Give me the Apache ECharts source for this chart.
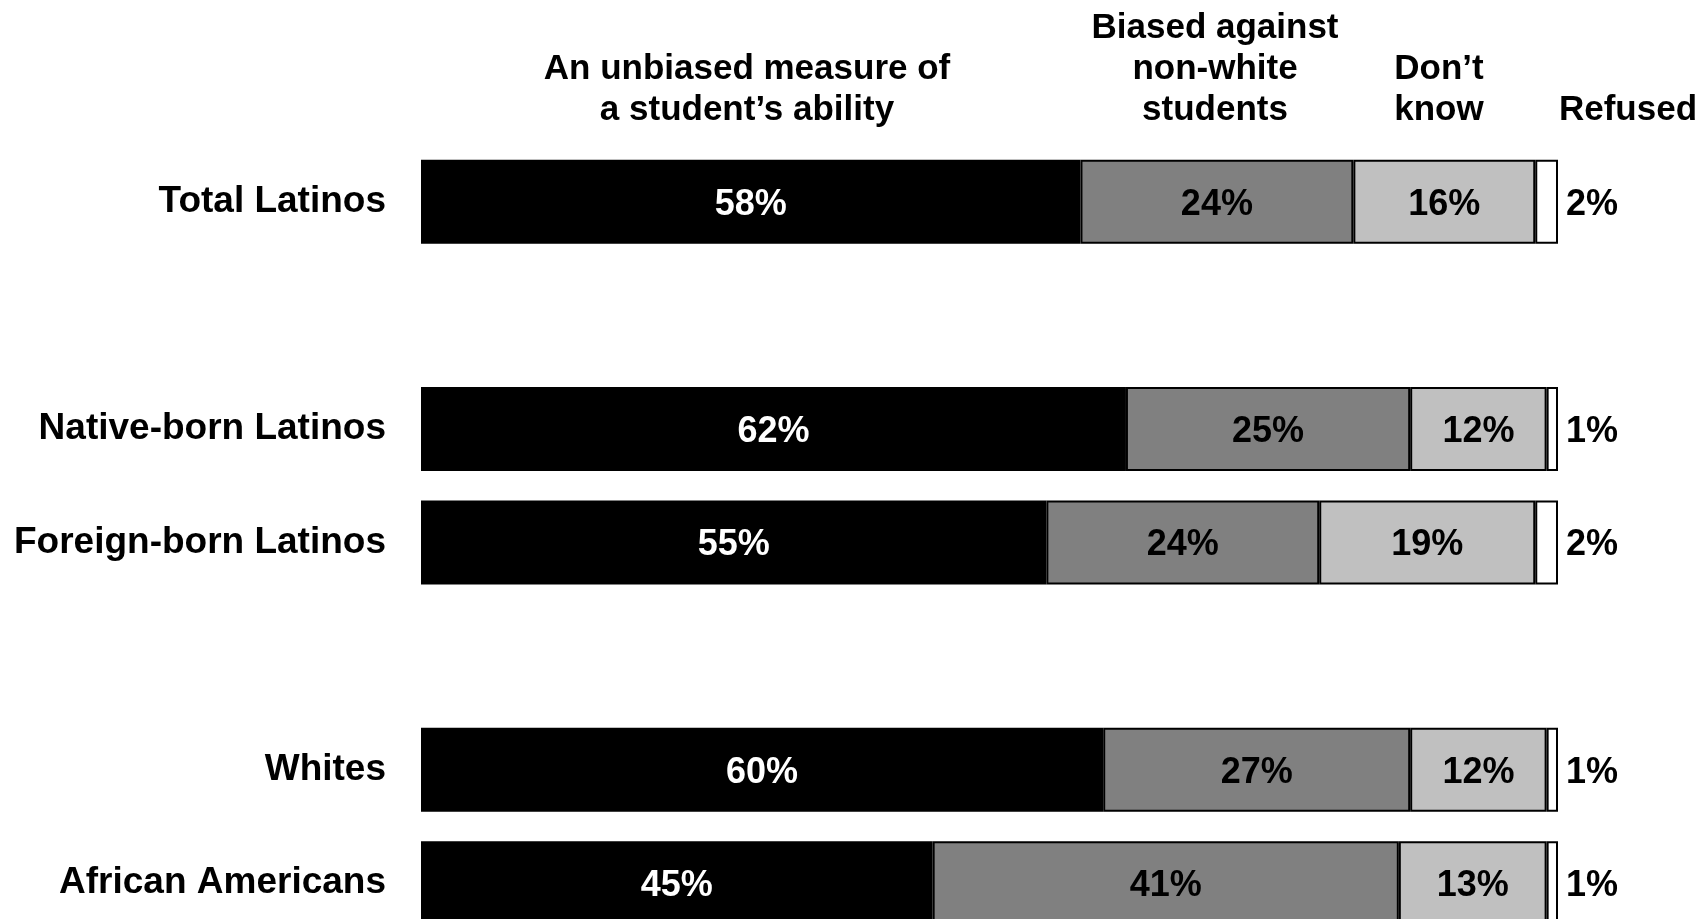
<!DOCTYPE html>
<html>
<head>
<meta charset="utf-8">
<script src="https://cdn.jsdelivr.net/npm/echarts@6/dist/echarts.min.js"></script>
<style>
  html, body { margin: 0; padding: 0; background: #fff; }
  #chart { width: 1705px; height: 919px; }
</style>
</head>
<body>
<div id="chart"></div>
<script>
// Rows (blank strings are spacer rows between groups)
const categories = ['Total Latinos', ' ', 'Native-born Latinos', 'Foreign-born Latinos', '  ', 'Whites', 'African Americans'];
const seriesNames = ['An unbiased measure of\na student\u2019s ability', 'Biased against\nnon-white\nstudents', 'Don\u2019t\nknow', 'Refused'];
const unbiased = [58, null, 62, 55, null, 60, 45];
const biased   = [24, null, 25, 24, null, 27, 41];
const dontKnow = [16, null, 12, 19, null, 12, 13];
const refused  = [2,  null, 1,  2,  null, 1,  1];

const FONT = '"Liberation Sans", Arial, sans-serif';
const colors = ['#000000', '#808080', '#c0c0c0', '#ffffff'];
const labelColors = ['#ffffff', '#000000', '#000000', '#000000'];
const values = [unbiased, biased, dontKnow, refused];

const chart = echarts.init(document.getElementById('chart'));

const series = values.map((vals, i) => ({
  name: seriesNames[i],
  type: 'bar',
  stack: 'total',
  barWidth: 84,
  data: vals.map(v => (v === null ? '-' : v)),
  itemStyle: { color: colors[i], borderColor: '#000', borderWidth: 2 },
  label: {
    show: true,
    position: i === 3 ? 'right' : 'inside',
    distance: 8,
    offset: [0, 3],
    formatter: p => p.value + '%',
    color: labelColors[i],
    fontFamily: FONT,
    fontWeight: 'bold',
    fontSize: 36
  },
  emphasis: { disabled: true },
  animation: false
}));

const headerStyle = (text, x) => ({
  type: 'text',
  style: {
    text: text,
    x: x,
    y: 131,
    textAlign: 'center',
    textVerticalAlign: 'bottom',
    font: 'bold 35px ' + FONT,
    lineHeight: 41,
    fill: '#000'
  }
});

chart.setOption({
  backgroundColor: '#fff',
  animation: false,
  grid: { left: 421, right: 147, top: 145, height: 795, containLabel: false, outerBoundsMode: 'none' },
  xAxis: { type: 'value', min: 0, max: 100, show: false },
  yAxis: {
    type: 'category',
    inverse: true,
    data: categories,
    axisLine: { show: false },
    axisTick: { show: false },
    splitLine: { show: false },
    axisLabel: {
      margin: 35,
      color: '#000',
      fontFamily: FONT,
      fontWeight: 'bold',
      fontSize: 37
    }
  },
  series: series,
  graphic: [
    headerStyle(seriesNames[0], 747),
    headerStyle(seriesNames[1], 1215),
    headerStyle(seriesNames[2], 1439),
    headerStyle(seriesNames[3], 1628)
  ]
});
</script>
</body>
</html>
